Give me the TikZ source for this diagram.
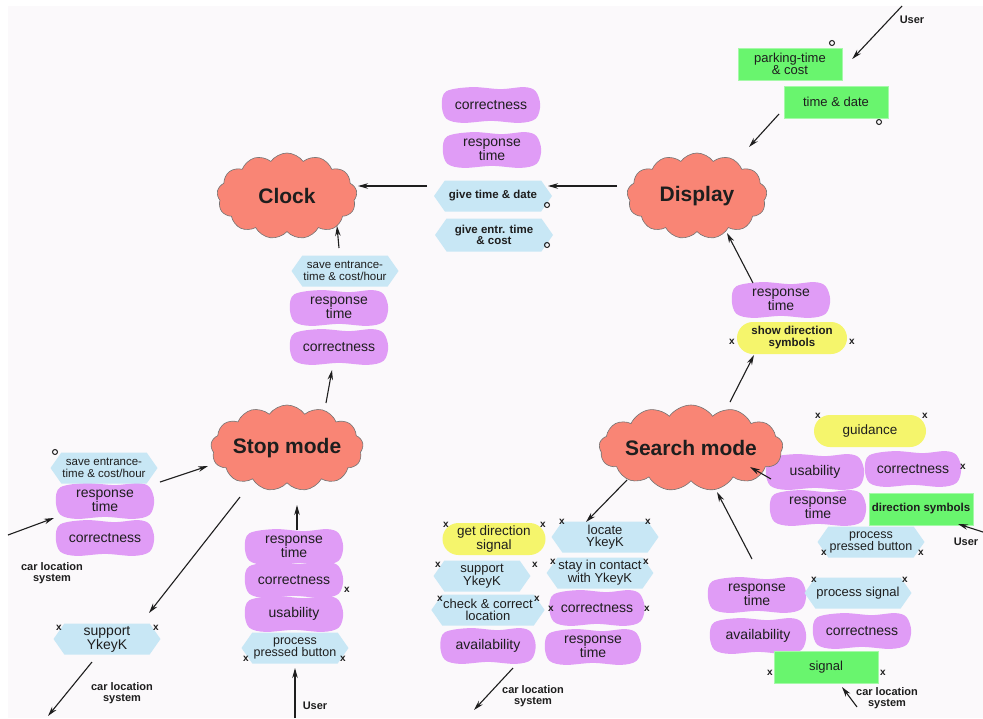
\documentclass[tikz,border=0pt]{standalone}
\usepackage{fontspec}
\setmainfont{Liberation Sans}
\usetikzlibrary{shapes.symbols,shapes.misc,arrows.meta,calc}
\pgfdeclarelayer{bgl}
\pgfdeclarelayer{blob}
\pgfsetlayers{bgl,blob,main}
\definecolor{bgc}{HTML}{FBF9FB}
\definecolor{salm}{HTML}{F98575}
\definecolor{purp}{HTML}{E09CF6}
\definecolor{hexb}{HTML}{C8E7F5}
\definecolor{yel}{HTML}{F5F56C}
\definecolor{grn}{HTML}{69F56E}
\definecolor{txt}{HTML}{1E1E1E}
\tikzset{
 cloudn/.style={cloud, cloud puffs=13, cloud puff arc=110, cloud ignores aspect, minimum width=140pt, minimum height=86pt, fill=salm, draw=black!55, line width=0.6pt, font=\fontsize{21}{24}\selectfont\bfseries, text=txt, inner sep=0pt},
 qual/.style={rectangle, minimum width=95pt, minimum height=33pt, align=center, font=\fontsize{14}{12.5}\selectfont, text=txt, inner sep=1pt},
 func/.style={signal, signal to=west and east, signal pointer angle=110, fill=hexb, minimum width=107pt, minimum height=31pt, align=center, font=\fontsize{13}{12}\selectfont, text=txt, inner sep=1pt},
 goal/.style={rounded rectangle, fill=yel, minimum width=112pt, minimum height=32pt, align=center, font=\fontsize{13.5}{12.5}\selectfont, text=txt, inner sep=1pt},
 res/.style={rectangle, fill=grn, draw=grn!60!white, minimum width=104pt, minimum height=32pt, align=center, font=\fontsize{13}{12}\selectfont, text=txt, inner sep=1pt},
 smallb/.style={font=\fontsize{11.5}{11.5}\selectfont\bfseries},
 xm/.style={font=\fontsize{10}{10}\selectfont\bfseries, inner sep=0pt, text=txt},
 om/.style={circle, draw=txt, line width=1pt, minimum size=5pt, inner sep=0pt},
 lbl/.style={font=\fontsize{11}{11.5}\selectfont\bfseries, align=center, text=txt, inner sep=0pt},
 arr/.style={-{Stealth[length=10pt,width=5.5pt]}, line width=1.1pt, draw=txt},
}
\begin{document}
\begin{tikzpicture}[x=1pt,y=-1pt]
\useasboundingbox (0,0) rectangle (983,718);
\begin{pgfonlayer}{bgl}
\fill[white] (0,0) rectangle (983,718);
\fill[bgc] (8,6) rectangle (983,718);
\end{pgfonlayer}
% clouds
\node[cloudn] (clock) at (287,196) {Clock};
\node[cloudn] (disp) at (697,196) {Display};
\node[cloudn] (stop) at (287,448) {Stop mode};
\node[cloudn] (search) at (691,448) {Search mode};
% top middle
\node[qual] (qc1) at (491,105) {correctness};
\node[qual] (qr1) at (492,150) {response\\time};
\node[func, smallb, minimum width=118pt] (gtd) at (493,196) {give time \& date};
\node[func, smallb, minimum width=118pt, minimum height=33pt] (gec) at (494,235) {give entr. time\\\& cost};
% green top
\node[res] (park) at (790,64) {parking-time\\\& cost};
\node[res] (td) at (836,102) {time \& date};
% clock column
\node[func, font=\fontsize{11.5}{11.5}\selectfont] (sec) at (345,271) {save entrance-\\time \& cost/hour};
\node[qual] (qr2) at (339,308) {response\\time};
\node[qual] (qc2) at (339,347) {correctness};
% display column
\node[qual] (qr3) at (781,300) {response\\time};
\node[goal, font=\fontsize{11.5}{12}\selectfont\bfseries] (sds) at (792,338) {show direction\\symbols};
% left
\node[func, font=\fontsize{11.5}{11.5}\selectfont] (sel) at (104,468) {save entrance-\\time \& cost/hour};
\node[qual] (qr4) at (105,501) {response\\time};
\node[qual] (qc4) at (105,538) {correctness};
\node[func, font=\fontsize{14}{12.5}\selectfont] (sypl) at (107,639) {support\\YkeyK};
% stop column
\node[qual] (qr5) at (294,547) {response\\time};
\node[qual] (qc5) at (294,580) {correctness};
\node[qual] (qu5) at (294,614) {usability};
\node[func, font=\fontsize{12.5}{12}\selectfont] (pps) at (295,648) {process\\pressed button};
% search left block
\node[goal, minimum width=105pt] (gds) at (494,539) {get direction\\signal};
\node[func] (loc) at (605,537) {locate\\YkeyK};
\node[func, minimum width=97pt] (sys) at (482,576) {support\\YkeyK};
\node[func, minimum width=105pt] (sic) at (600,573) {stay in contact\\with YkeyK};
\node[func] (ccl) at (488,610) {check \& correct\\location};
\node[qual, minimum width=92pt] (qc6) at (597,608) {correctness};
\node[qual, minimum width=92pt] (qa6) at (488,646) {availability};
\node[qual, minimum width=93pt] (qr6) at (593,647) {response\\time};
% search right bottom
\node[qual] (qr7) at (757,595) {response\\time};
\node[qual, minimum width=93pt] (qa7) at (758,636) {availability};
\node[func] (psig) at (858,593) {process signal};
\node[qual] (qc7) at (862,631) {correctness};
\node[res] (sig) at (826,667) {signal};
% search right top
\node[goal, minimum width=114pt] (guid) at (870,431) {guidance};
\node[qual] (qu8) at (815,472) {usability};
\node[qual, minimum width=93pt] (qc8) at (913,469) {correctness};
\node[qual, minimum width=93pt] (qr8) at (818,508) {response\\time};
\node[res, font=\fontsize{11.5}{12}\selectfont\bfseries] (dsym) at (921,509) {direction symbols};
\node[func, font=\fontsize{12.5}{12}\selectfont] (pps2) at (871,542) {process\\pressed button};
% wavy purple backgrounds
\begin{pgfonlayer}{blob}
\foreach \n in {qc1,qr1,qr2,qc2,qr3,qr4,qc4,qr5,qc5,qu5,qc6,qa6,qr6,qr7,qa7,qc7,qu8,qc8,qr8}{
 \fill[purp] plot[smooth cycle, tension=0.55] coordinates {
  ($(\n.north west)+(3,3)$)
  ($(\n.north west)!0.3!(\n.north east)+(0,-1.2)$)
  ($(\n.north west)!0.6!(\n.north east)+(0,0.8)$)
  ($(\n.north west)!0.85!(\n.north east)+(0,-1.2)$)
  ($(\n.north east)+(-3,3)$)
  ($(\n.north east)!0.5!(\n.south east)+(1.5,0)$)
  ($(\n.south east)+(-3,-3)$)
  ($(\n.south east)!0.2!(\n.south west)+(0,1.2)$)
  ($(\n.south east)!0.5!(\n.south west)+(0,-0.8)$)
  ($(\n.south east)!0.8!(\n.south west)+(0,1.2)$)
  ($(\n.south west)+(3,-3)$)
  ($(\n.south west)!0.5!(\n.north west)+(-1.5,0)$)
 };
}
\end{pgfonlayer}
% labels
\node[lbl] (userT) at (912,20) {User};
\node[lbl] (userR) at (966,542) {User};
\node[lbl] (userB) at (315,706) {User};
\node[lbl] (cll) at (52,573) {car location\\system};
\node[lbl] (clb) at (122,693) {car location\\system};
\node[lbl] (cls) at (533,696) {car location\\system};
\node[lbl] (clr) at (887,698) {car location\\system};
% o markers
\node[om] (o1) at (832,43) {};
\node[om] (o2) at (879,122) {};
\node[om] (o3) at (547,205) {};
\node[om] (o4) at (547,245) {};
\node[om] (o5) at (55,452) {};
% x markers
\node[xm] (x1) at (732,342) {x};
\node[xm] (x2) at (852,342) {x};
\node[xm] (x3) at (818,416) {x};
\node[xm] (x4) at (925,416) {x};
\node[xm] (x5) at (963,467) {x};
\node[xm] (x6) at (824,553) {x};
\node[xm] (x7) at (921,553) {x};
\node[xm] (x8) at (347,590) {x};
\node[xm] (x9) at (246,659) {x};
\node[xm] (x10) at (343,659) {x};
\node[xm] (x11) at (59,628) {x};
\node[xm] (x12) at (156,628) {x};
\node[xm] (x13) at (446,525) {x};
\node[xm] (x14) at (543,525) {x};
\node[xm] (x15) at (562,522) {x};
\node[xm] (x16) at (648,522) {x};
\node[xm] (x17) at (438,565) {x};
\node[xm] (x18) at (535,565) {x};
\node[xm] (x19) at (553,562) {x};
\node[xm] (x20) at (646,562) {x};
\node[xm] (x21) at (440,599) {x};
\node[xm] (x22) at (537,599) {x};
\node[xm] (x23) at (551,609) {x};
\node[xm] (x24) at (647,609) {x};
\node[xm] (x25) at (814,580) {x};
\node[xm] (x26) at (905,580) {x};
\node[xm] (x27) at (770,673) {x};
\node[xm] (x28) at (883,673) {x};
% connectors
\draw[arr] ($(userT)+(-10,-14)$) -- ($(park.east)+(10,-5)$);
\draw[arr] ($(td)+(-57,12)$) -- ($(disp)+(52,-49)$);
\draw[arr] ($(disp)+(-80,-10)$) -- ($(gtd)+(55,-10)$);
\draw[arr] ($(gtd)+(-66,-10)$) -- ($(clock)+(71,-10)$);
\draw[arr] ($(sec)+(-6,-23)$) -- ($(clock)+(50,30)$);
\draw[arr] ($(stop)+(39,-45)$) -- ($(qc2)+(-7,23)$);
\draw[arr] ($(sel)+(56,14)$) -- ($(stop)+(-79,18)$);
\draw[arr] ($(cll)+(-44,-38)$) -- ($(qr4)+(-51,17)$);
\draw[arr] ($(stop)+(-47,49)$) -- ($(sypl)+(42,-26)$);
\draw[arr] ($(sypl)+(-15,23)$) -- ($(clb)+(-74,23)$);
\draw[arr] ($(userB)+(-20,12)$) -- ($(pps)+(0,20)$);
\draw[arr] ($(qr5)+(3,-17)$) -- ($(stop)+(10,57)$);
\draw[arr] ($(search)+(39,-46)$) -- ($(sds)+(-38,17)$);
\draw[arr] ($(qr3)+(-28,-17)$) -- ($(disp)+(30,37)$);
\draw[arr] ($(search)+(-64,32)$) -- ($(loc)+(-19,-15)$);
\draw[arr] ($(qa6)+(25,22)$) -- ($(cls)+(-59,14)$);
\draw[arr] ($(qu8)+(-44,7)$) -- ($(search)+(59,19)$);
\draw[arr] ($(qr7)+(-5,-36)$) -- ($(search)+(26,44)$);
\draw[arr] ($(userR)+(17,-10)$) -- ($(dsym)+(37,15)$);
\draw[arr] ($(clr)+(-30,9)$) -- ($(sig)+(16,20)$);
\end{tikzpicture}
\end{document}
